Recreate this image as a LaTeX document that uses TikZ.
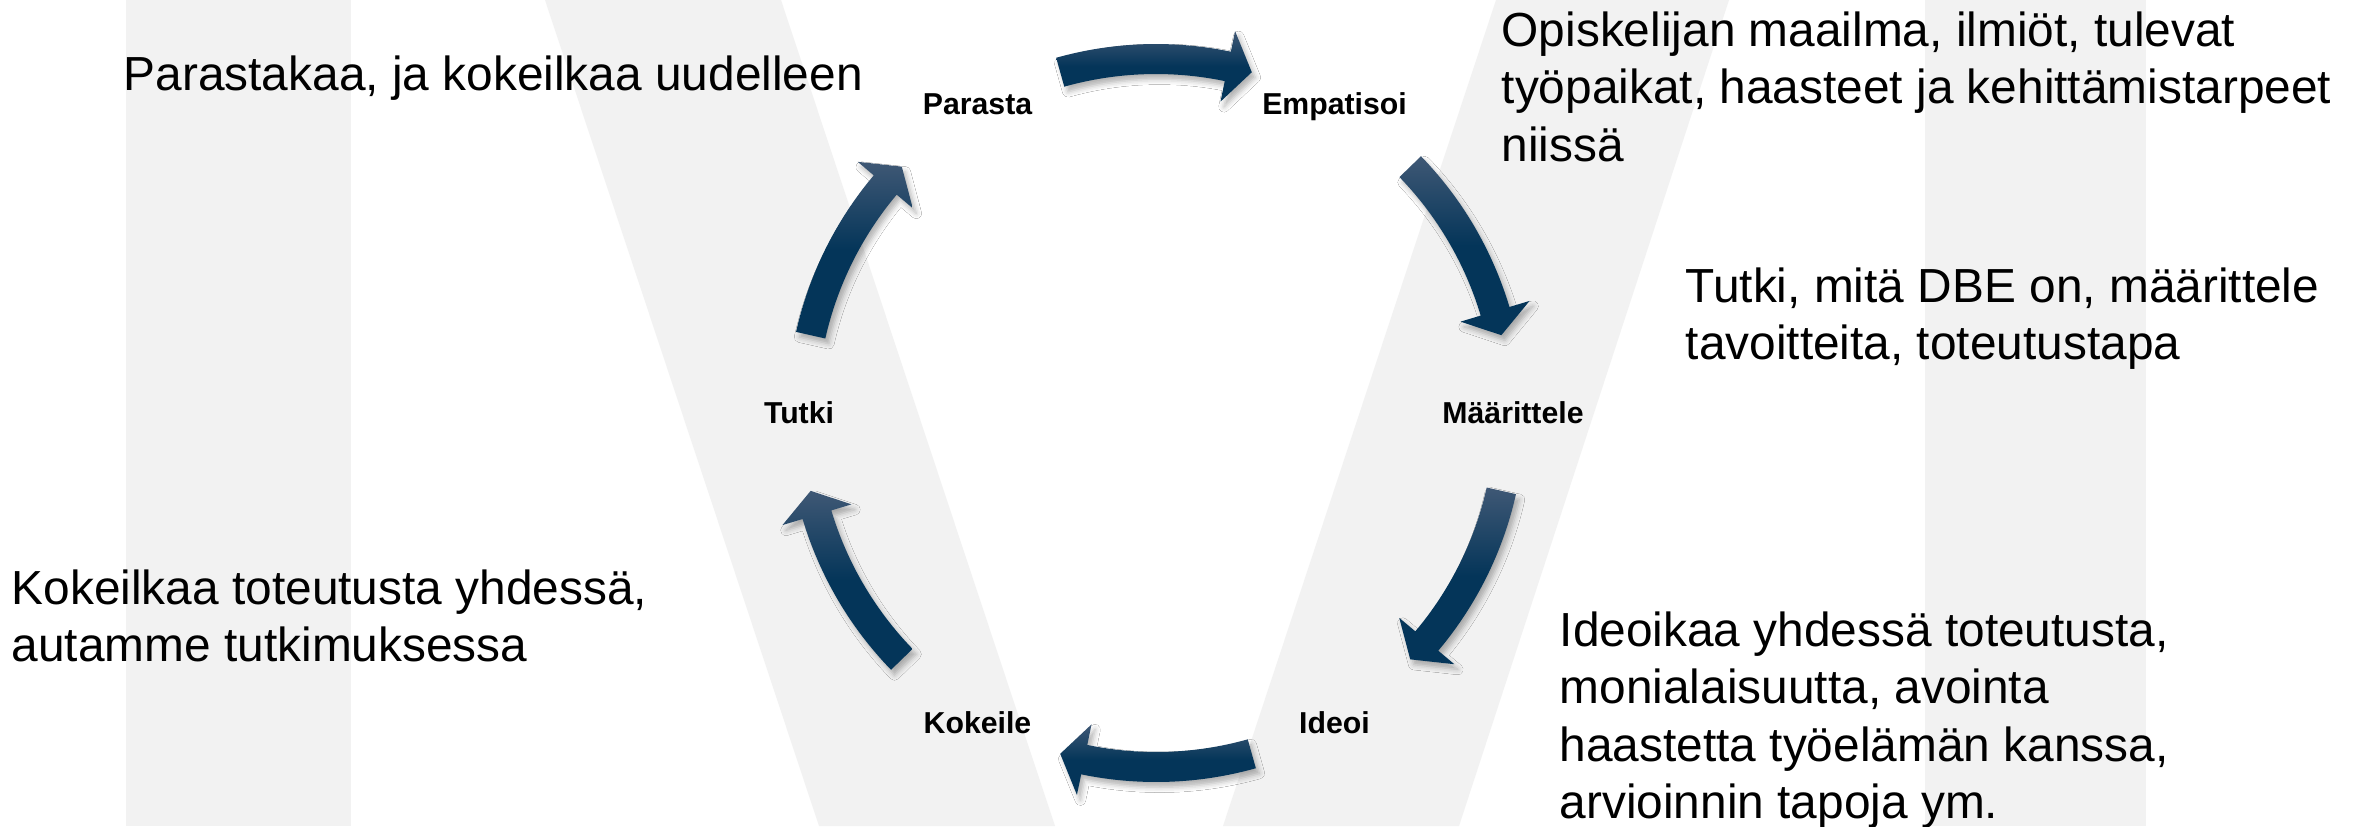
\documentclass[tikz,border=0pt]{standalone}
\usepackage{fontspec}
\setmainfont{Liberation Sans}
\usetikzlibrary{shadows.blur}
\definecolor{NavyDark}{HTML}{043559}
\definecolor{NavyLight}{HTML}{3F5875}
\definecolor{BandGray}{HTML}{F2F2F2}

% one curved block arrow of the cycle, centred on angle #1
\newcommand{\cyclearrow}[1]{%
  \path[cyclearrowshape] ([shift={(#1+15.7:369)}]hub)
    arc[start angle=#1+15.7, end angle=#1-11.7, radius=369]
    -- ([shift={(#1-11.7:390)}]hub) -- ([shift={(#1-15.7:354)}]hub)
    -- ([shift={(#1-11.7:318)}]hub) -- ([shift={(#1-11.7:339)}]hub)
    arc[start angle=#1-11.7, end angle=#1+15.7, radius=339] -- cycle;}

\begin{document}
\begin{tikzpicture}[
      x=0.01cm, y=0.01cm,
      band/.style={fill=BandGray},
      phase/.style={font=\fontsize{8.6}{10}\selectfont\bfseries, inner sep=0pt, text height=6.2pt, text depth=0pt},
      note/.style={font=\fontsize{13.6}{16.3}\selectfont, align=left, anchor=north west, inner sep=0pt},
      cyclearrowshape/.style={top color=NavyLight, bottom color=NavyDark, middle color=NavyDark,
        blur shadow={shadow xshift=1pt, shadow yshift=-1.5pt, shadow blur radius=1.5pt, shadow opacity=30}}
    ]
      \useasboundingbox (0,0) rectangle (2361,826);
      \fill[white] (0,0) rectangle (2361,826);

      % Background bands
      \fill[band] (126,0) rectangle (351,826);
      \fill[band] (545,826) -- (781,826) -- (1055,0) -- (819,0) -- cycle;
      \fill[band] (1496,826) -- (1729,826) -- (1459,0) -- (1223,0) -- cycle;
      \fill[band] (1925,0) rectangle (2146,826);

      \coordinate (hub) at (1156,413);

      % Phases
      \path (hub) ++(120:357) node[phase] (parasta) {Parasta};
      \path (hub) ++(60:357) node[phase] (empatisoi) {Empatisoi};
      \path (hub) ++(0:357) node[phase] (maarittele) {Määrittele};
      \path (hub) ++(-60:357) node[phase] (ideoi) {Ideoi};
      \path (hub) ++(-120:357) node[phase] (kokeile) {Kokeile};
      \path (hub) ++(180:357) node[phase] (tutki) {Tutki};

      % Arrows
      \cyclearrow{90}
      \cyclearrow{28.4}
      \cyclearrow{-28.4}
      \cyclearrow{-90}
      \cyclearrow{-151.6}
      \cyclearrow{151.6}

      % Notes
      \node[note] (parastanote) at (123,771) {Parastakaa, ja kokeilkaa uudelleen};
      \node[note] (empatisoinote) at (1501,815) {Opiskelijan maailma, ilmiöt, tulevat\\työpaikat, haasteet ja kehittämistarpeet\\niissä};
      \node[note] (maarittelenote) at (1685,559) {Tutki, mitä DBE on, määrittele\\tavoitteita, toteutustapa};
      \node[note] (ideoinote) at (1559,215) {Ideoikaa yhdessä toteutusta,\\monialaisuutta, avointa\\haastetta työelämän kanssa,\\arvioinnin tapoja ym.};
      \node[note] (kokeilenote) at (11,257) {Kokeilkaa toteutusta yhdessä,\\autamme tutkimuksessa};

    \end{tikzpicture}
\end{document}
